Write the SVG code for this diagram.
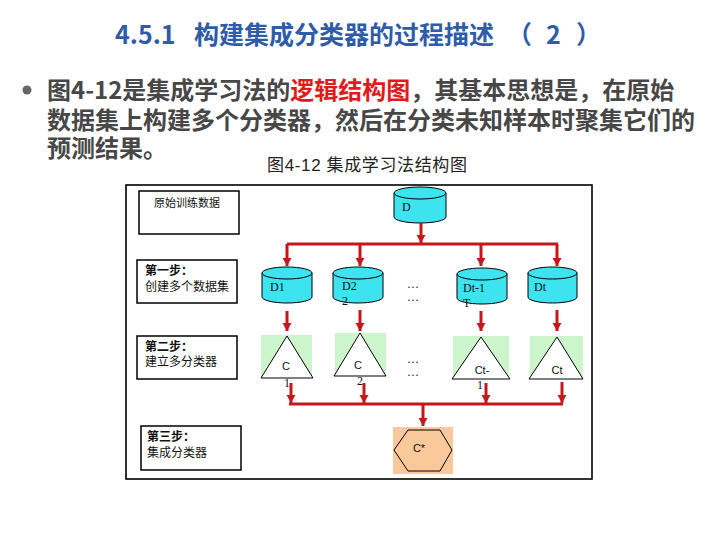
<svg xmlns="http://www.w3.org/2000/svg" width="720" height="540" viewBox="0 0 720 540">
<style>
.title{font-family:"Noto Sans CJK SC","Liberation Sans",sans-serif;font-weight:bold;font-size:25px;fill:#2E5CA8}
.body{font-family:"Noto Sans CJK SC","Liberation Sans",sans-serif;font-weight:bold;font-size:24px;fill:#474747}
.red{fill:#E01B1B}
.cap{font-family:"Liberation Sans","Noto Sans CJK SC",sans-serif;font-size:17px;fill:#222}
.cjk{font-family:"Noto Sans CJK SC",sans-serif;font-size:12px;fill:#111}
.cjkb{font-family:"Noto Sans CJK SC",sans-serif;font-size:12px;font-weight:bold;fill:#111}
.ser{font-family:"Liberation Serif",serif;font-size:12px;fill:#111}
.sans{font-family:"Liberation Sans",sans-serif;font-size:11px;fill:#111}
.box{fill:#fff;stroke:#000;stroke-width:1.5}
.cyl{fill:#3DE3EF;stroke:#000;stroke-width:1}
.grn{fill:#CCF5CC}
.tri{fill:#fff;stroke:#000;stroke-width:1}
.arr{fill:none;stroke:#C8161D;stroke-width:3}
.arrE{fill:none;stroke:#C8161D;stroke-width:3;marker-end:url(#ah)}
</style>
<defs>
<marker id="ah" markerWidth="10" markerHeight="10" refX="8" refY="5" orient="auto" markerUnits="userSpaceOnUse">
<path d="M0,0.5 L8,5 L0,9.5 Z" fill="#C8161D"/>
</marker>
</defs>
<rect width="720" height="540" fill="#fff"/>

<g id="title">
<text class="title" y="44"><tspan x="115">4.5.1</tspan><tspan x="194">构建集成分类器的过程描述</tspan><tspan x="507">（</tspan><tspan x="546">2</tspan><tspan x="576">）</tspan></text>
</g>

<g id="body">
<circle cx="27" cy="90" r="4.5" fill="#666"/>
<text class="body"><tspan x="47" y="99">图4-12是集成学习法的</tspan><tspan class="red">逻辑结构图</tspan><tspan>，其基本思想是，在原始</tspan><tspan x="47" y="129">数据集上构建多个分类器，然后在分类未知样本时聚集它们的</tspan><tspan x="47" y="157">预测结果。</tspan></text>
<text class="cap" x="267" y="171" textLength="200" lengthAdjust="spacing">图4-12 集成学习法结构图</text>
</g>

<rect x="126" y="185" width="466" height="294" fill="#fff" stroke="#000" stroke-width="1.6"/>

<g id="n-raw">
<rect class="box" x="139" y="191" width="100" height="43"/>
<text class="cjk" x="154" y="207" style="font-size:11px">原始训练数据</text>
</g>
<g id="n-step1">
<rect class="box" x="137" y="260" width="100" height="43"/>
<text class="cjkb" x="145" y="275">第一步：</text>
<text class="cjk" x="145" y="291">创建多个数据集</text>
</g>
<g id="n-step2">
<rect class="box" x="137" y="336" width="100" height="43"/>
<text class="cjkb" x="145" y="351">第二步：</text>
<text class="cjk" x="145" y="366">建立多分类器</text>
</g>
<g id="n-step3">
<rect class="box" x="141" y="426" width="100" height="44"/>
<text class="cjkb" x="147" y="441">第三步：</text>
<text class="cjk" x="147" y="457">集成分类器</text>
</g>

<g id="n-D">
<path class="cyl" d="M394,193 L394,217 A26,6 0 0 0 446,217 L446,193"/>
<ellipse class="cyl" cx="420" cy="193" rx="26" ry="6"/>
<text class="ser" x="402" y="211">D</text>
</g>
<g id="n-D1">
<path class="cyl" d="M262,273 L262,297 A25,6 0 0 0 312,297 L312,273"/>
<ellipse class="cyl" cx="287" cy="273" rx="25" ry="6"/>
<text class="ser" x="270" y="291">D1</text>
</g>
<g id="n-D2">
<path class="cyl" d="M333,273 L333,297 A25,6 0 0 0 383,297 L383,273"/>
<ellipse class="cyl" cx="358" cy="273" rx="25" ry="6"/>
<text class="ser" x="342" y="290">D2</text>
<text class="ser" x="342" y="305">2</text>
</g>
<g id="n-Dt1">
<path class="cyl" d="M457,274 L457,298 A25,6 0 0 0 507,298 L507,274"/>
<ellipse class="cyl" cx="482" cy="274" rx="25" ry="6"/>
<text class="ser" x="463" y="292">Dt-1</text>
<text class="ser" x="463" y="307">T</text>
</g>
<g id="n-Dt">
<path class="cyl" d="M528,273 L528,297 A24.5,6 0 0 0 577,297 L577,273"/>
<ellipse class="cyl" cx="552.5" cy="273" rx="24.5" ry="6"/>
<text class="ser" x="534" y="291">Dt</text>
</g>
<g id="n-dots1">
<text class="ser" x="407" y="288">…</text>
<text class="ser" x="407" y="301">…</text>
</g>

<g id="n-C1">
<rect class="grn" x="261" y="335" width="51" height="42"/>
<path class="tri" d="M287,336 L313,378 L261,378 Z"/>
<text class="sans" x="286" y="370" text-anchor="middle">C</text>
<text class="ser" x="284" y="387">1</text>
</g>
<g id="n-C2">
<rect class="grn" x="335" y="333" width="51" height="43"/>
<path class="tri" d="M360,333 L386,376 L334,376 Z"/>
<text class="sans" x="358" y="369" text-anchor="middle">C</text>
<text class="ser" x="357" y="385">2</text>
</g>
<g id="n-Ct1">
<rect class="grn" x="453" y="336" width="56" height="43"/>
<path class="tri" d="M481,337 L510,379 L452,379 Z"/>
<text class="sans" x="482" y="374" text-anchor="middle">Ct-</text>
<text class="ser" x="477" y="389">1</text>
</g>
<g id="n-Ct">
<rect class="grn" x="530" y="336" width="53" height="43"/>
<path class="tri" d="M557,337 L583,379 L529,379 Z"/>
<text class="sans" x="557" y="374" text-anchor="middle">Ct</text>
</g>
<g id="n-dots2">
<text class="ser" x="407" y="363">…</text>
<text class="ser" x="407" y="376">…</text>
</g>

<g id="n-Cstar">
<rect x="393" y="427" width="60" height="47" fill="#F9C89B"/>
<path d="M394,450 L408,430 L440,430 L452,450 L440,471 L408,471 Z" fill="none" stroke="#000" stroke-width="1"/>
<text class="sans" x="419" y="452" text-anchor="middle">C*</text>
</g>

<g id="connectors">
<path class="arrE" d="M421,223 L421,243"/>
<path class="arr" d="M287,244 L558,244"/>
<path class="arrE" d="M287,244 L287,266"/>
<path class="arrE" d="M360,244 L360,266"/>
<path class="arrE" d="M481,244 L481,266"/>
<path class="arrE" d="M557,244 L557,266"/>
<path class="arrE" d="M287,311 L287,331"/>
<path class="arrE" d="M360,310 L360,331"/>
<path class="arrE" d="M481,311 L481,331"/>
<path class="arrE" d="M557,310 L557,331"/>
<path class="arrE" d="M291,383 L291,403"/>
<path class="arrE" d="M364,383 L364,403"/>
<path class="arrE" d="M486,383 L486,403"/>
<path class="arrE" d="M562,382 L562,403"/>
<path class="arr" d="M289,404 L563,404"/>
<path class="arrE" d="M423,404 L423,426"/>
</g>
</svg>
